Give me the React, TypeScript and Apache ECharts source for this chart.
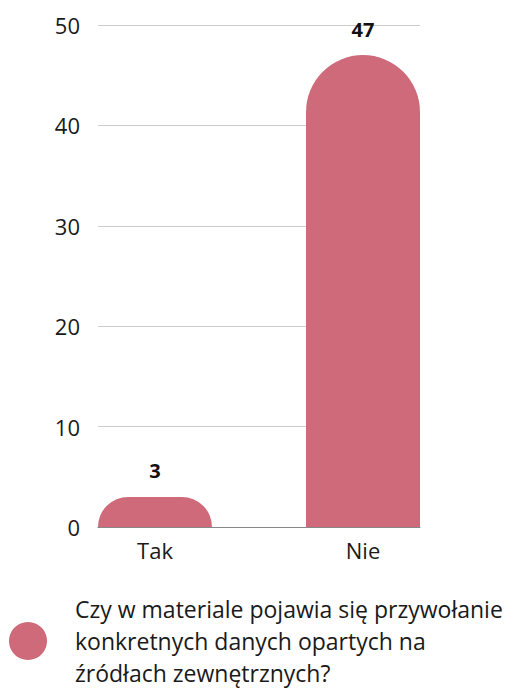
import React, { useEffect, useRef } from "react";
import * as echarts from "echarts";

const categories = ["Tak", "Nie"];
const values = [3, 47];
const yTicks = { min: 0, max: 50, interval: 10 };
const seriesName = "Czy w materiale pojawia się przywołanie\nkonkretnych danych opartych na\nźródłach zewnętrznych?";

export default function App() {
  const ref = useRef<HTMLDivElement>(null);
  useEffect(() => {
    if (!ref.current) return;
    const chart = echarts.init(ref.current, undefined, { renderer: "svg" });
    const font = "'Open Sans', 'Noto Sans', sans-serif";
    chart.setOption({
      animation: false,
      textStyle: { fontFamily: font },
      grid: { left: 98, right: 110, top: 25, bottom: 162, containLabel: false },
      xAxis: {
        type: "value",
        min: -0.274,
        max: 1.274,
        splitLine: { show: false },
        axisTick: { show: false },
        axisLine: { show: true, lineStyle: { color: "#888", width: 1 } },
        axisLabel: {
          customValues: [0, 1],
          formatter: (v: number) => categories[Math.round(v)] ?? "",
          fontSize: 22,
          color: "#1a1a1a",
          margin: 12,
          fontFamily: font,
        },
      },
      yAxis: {
        type: "value",
        min: yTicks.min,
        max: yTicks.max,
        interval: yTicks.interval,
        axisLine: { show: false },
        axisTick: { show: false },
        splitLine: { lineStyle: { color: "#cccccc", width: 1 } },
        axisLabel: { fontSize: 22, color: "#1a1a1a", margin: 18, fontFamily: font },
      },
      legend: {
        show: true,
        orient: "vertical",
        left: 9,
        top: 593,
        padding: 0,
        icon: "circle",
        itemWidth: 38,
        itemHeight: 38,
        textStyle: {
          fontSize: 23,
          lineHeight: 32,
          height: 96,
          color: "#1a1a1a",
          fontFamily: font,
          padding: [0, 0, 0, 23],
          overflow: "none",
        },
        data: [seriesName],
      },
      series: [
        {
          name: seriesName,
          type: "bar",
          barWidth: 114,
          data: categories.map((c, i) => [i, values[i]]),
          itemStyle: { color: "#CE6A79", borderRadius: [57, 57, 0, 0] },
          label: {
            show: true,
            position: "top",
            distance: 16,
            fontSize: 20,
            fontWeight: "bold",
            color: "#111",
            fontFamily: font,
          },
        },
      ],
    });
    return () => chart.dispose();
  }, []);
  return (
    <div style={{ position: "absolute", left: 0, top: 0, width: 530, height: 689 }}>
      <div ref={ref} style={{ width: 530, height: 689 }} />
    </div>
  );
}
